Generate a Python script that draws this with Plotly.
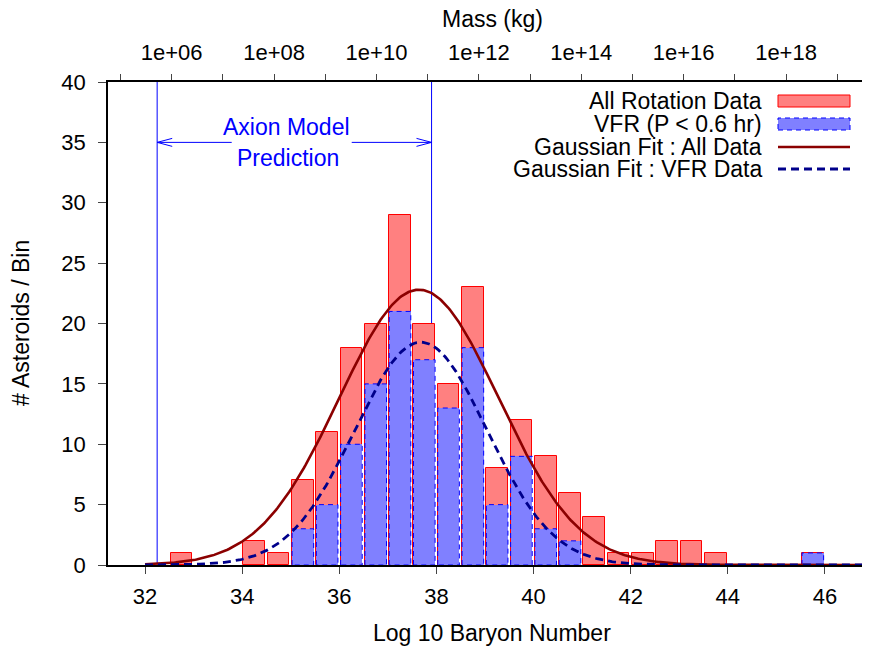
import numpy as np
import plotly.graph_objects as go

# ---------------- data ----------------
BIN_WIDTH = 0.5
BIN_CENTERS = [32.75, 34.25, 34.75, 35.25, 35.75, 36.25, 36.75, 37.25, 37.75, 38.25,
               38.75, 39.25, 39.75, 40.25, 40.75, 41.25, 41.75, 42.25, 42.75, 43.25,
               43.75, 45.75]
ALL_COUNTS = [1, 2, 1, 7, 11, 18, 20, 29, 20, 15, 23, 8, 12, 9, 6, 4, 1, 1, 2, 2, 1, 1]
VFR_COUNTS = [0, 0, 0, 3, 5, 10, 15, 21, 17, 13, 18, 5, 9, 3, 2, 0, 0, 0, 0, 0, 0, 1]

# Gaussian fit parameters (amplitude, mean, sigma)
ALL_FIT = [22.8, 37.64, 1.64]
VFR_FIT = [18.45, 37.68, 1.36]
FIT_START = 32.0

AXION_RANGE = [32.25, 37.90]

X_TICKS = [32, 34, 36, 38, 40, 42, 44, 46]
Y_TICKS = [0, 5, 10, 15, 20, 25, 30, 35, 40]
MASS_EXPONENTS = [5, 6, 7, 8, 9, 10, 11, 12, 13, 14, 15, 16, 17, 18, 19]
MASS_LABELS = ["", "1e+06", "", "1e+08", "", "1e+10", "", "1e+12", "", "1e+14",
               "", "1e+16", "", "1e+18", ""]

LEGEND_LABELS = ["All Rotation Data", "VFR (P &lt; 0.6 hr)",
                 "Gaussian Fit : All Data", "Gaussian Fit : VFR Data"]

# ---------------- styling ----------------
FONT = "Liberation Sans, Arial, sans-serif"
FS = 22      # tick labels
FS_T = 23    # titles, legend, annotations
RED_FILL, RED_LINE = "#ff8080", "#ff0000"
BLUE_FILL, BLUE_LINE = "#8080ff", "#0000ff"
DARK_RED, NAVY = "#8b0000", "#00008b"

OFF = 8  # page body margin
W, H = 870, 649
L, R, T, B = 100, 8, 74, 92
X_RANGE = [31.238, 46.927]
MASS_RANGE = [4.756, 19.64]
BAR_W = 0.445


def xp(px):
    """image pixel x -> paper"""
    return (px - OFF - L) / (W - L - R)


def yp(py):
    """image pixel y -> paper"""
    return (H - B - (py - OFF)) / (H - T - B)


fig = go.Figure()

fig.add_trace(go.Bar(x=BIN_CENTERS, y=ALL_COUNTS, width=BAR_W,
                     marker=dict(color=RED_FILL, line=dict(color=RED_LINE, width=1)),
                     showlegend=False, hoverinfo="skip"))
fig.add_trace(go.Bar(x=BIN_CENTERS, y=VFR_COUNTS, width=BAR_W,
                     marker=dict(color=BLUE_FILL, line=dict(width=0)),
                     showlegend=False, hoverinfo="skip"))

# dashed outlines of the VFR bars
ox, oy = [], []
for c, h in zip(BIN_CENTERS, VFR_COUNTS):
    if h <= 0:
        continue
    l, r = c - BAR_W / 2, c + BAR_W / 2
    ox += [l, l, r, r, l, None]
    oy += [0, h, h, 0, 0, None]
fig.add_trace(go.Scatter(x=ox, y=oy, mode="lines",
                         line=dict(color=BLUE_LINE, width=1, dash="5px,4px"),
                         showlegend=False, hoverinfo="skip"))

# gaussian fits
xf = np.linspace(FIT_START, X_RANGE[1] + 0.2, 500)


def gauss(x, p):
    a, m, s = p
    return a * np.exp(-((x - m) ** 2) / (2 * s * s))


fig.add_trace(go.Scatter(x=xf, y=gauss(xf, ALL_FIT), mode="lines",
                         line=dict(color=DARK_RED, width=2.6),
                         showlegend=False, hoverinfo="skip"))
fig.add_trace(go.Scatter(x=xf, y=gauss(xf, VFR_FIT), mode="lines",
                         line=dict(color=NAVY, width=2.8, dash="8px,5px"),
                         showlegend=False, hoverinfo="skip"))

# invisible trace to carry the top (mass) axis
fig.add_trace(go.Scatter(x=MASS_EXPONENTS, y=[None] * len(MASS_EXPONENTS),
                         xaxis="x2", mode="lines", showlegend=False, hoverinfo="skip"))

shapes = []
annotations = []

# axion model vertical lines
for xa in AXION_RANGE:
    shapes.append(dict(type="line", xref="x", yref="y", x0=xa, x1=xa, y0=0, y1=40,
                       line=dict(color=BLUE_LINE, width=1), layer="below"))

# arrow at y=35 with gap for text
ARROW_Y = 35
gap_l, gap_r = 33.785, 36.256
shapes.append(dict(type="line", xref="x", yref="y", x0=AXION_RANGE[0], x1=gap_l,
                   y0=ARROW_Y, y1=ARROW_Y, line=dict(color=BLUE_LINE, width=1)))
shapes.append(dict(type="line", xref="x", yref="y", x0=gap_r, x1=AXION_RANGE[1],
                   y0=ARROW_Y, y1=ARROW_Y, line=dict(color=BLUE_LINE, width=1)))
hx, hy = 0.31, 0.33
for tip, d in [(AXION_RANGE[0], 1), (AXION_RANGE[1], -1)]:
    for s in (1, -1):
        shapes.append(dict(type="line", xref="x", yref="y", x0=tip, x1=tip + d * hx,
                           y0=ARROW_Y, y1=ARROW_Y + s * hy,
                           line=dict(color=BLUE_LINE, width=1)))

annotations.append(dict(text="Axion Model", x=34.92, y=36.27, xref="x", yref="y",
                        showarrow=False, font=dict(color=BLUE_LINE, size=FS_T, family=FONT),
                        xanchor="center", yanchor="middle"))
annotations.append(dict(text="Prediction", x=34.94, y=33.71, xref="x", yref="y",
                        showarrow=False, font=dict(color=BLUE_LINE, size=FS_T, family=FONT),
                        xanchor="center", yanchor="middle"))

# custom legend (text left of sample)
leg_rows = [101, 124, 147, 169]
for lab, py in zip(LEGEND_LABELS, leg_rows):
    annotations.append(dict(text=lab, x=xp(764), y=yp(py), xref="paper", yref="paper",
                            showarrow=False, xanchor="right", yanchor="middle",
                            font=dict(size=FS_T, family=FONT, color="black")))
sx0, sx1 = xp(778), xp(850)
shapes.append(dict(type="rect", xref="paper", yref="paper", x0=sx0, x1=sx1,
                   y0=yp(leg_rows[0] + 6), y1=yp(leg_rows[0] - 6),
                   fillcolor=RED_FILL, line=dict(color=RED_LINE, width=1)))
shapes.append(dict(type="rect", xref="paper", yref="paper", x0=sx0, x1=sx1,
                   y0=yp(leg_rows[1] + 6), y1=yp(leg_rows[1] - 6),
                   fillcolor=BLUE_FILL, line=dict(color=BLUE_LINE, width=1, dash="5px,4px")))
shapes.append(dict(type="line", xref="paper", yref="paper", x0=sx0, x1=sx1,
                   y0=yp(leg_rows[2]), y1=yp(leg_rows[2]),
                   line=dict(color=DARK_RED, width=2.6)))
shapes.append(dict(type="line", xref="paper", yref="paper", x0=sx0, x1=sx1,
                   y0=yp(leg_rows[3]), y1=yp(leg_rows[3]),
                   line=dict(color=NAVY, width=2.8, dash="8px,5px")))

# axis titles
annotations.append(dict(text="Log 10 Baryon Number", x=xp(492), y=yp(633), xref="paper",
                        yref="paper", showarrow=False, xanchor="center", yanchor="middle",
                        font=dict(size=FS_T, family=FONT, color="black")))
annotations.append(dict(text="# Asteroids / Bin", x=xp(21), y=yp(323), xref="paper",
                        yref="paper", showarrow=False, xanchor="center", yanchor="middle",
                        textangle=-90, font=dict(size=FS_T, family=FONT, color="black")))
annotations.append(dict(text="Mass (kg)", x=xp(492), y=yp(19), xref="paper",
                        yref="paper", showarrow=False, xanchor="center", yanchor="middle",
                        font=dict(size=FS_T, family=FONT, color="black")))

axis_common = dict(showgrid=False, zeroline=False, ticks="outside", tickcolor="#444",
                   showline=True, linecolor="black", linewidth=1.5,
                   tickfont=dict(size=FS, family=FONT, color="black"))

fig.update_layout(
    width=W, height=H,
    margin=dict(l=L, r=R, t=T, b=B, pad=0),
    paper_bgcolor="white", plot_bgcolor="white",
    barmode="overlay", bargap=0,
    showlegend=False,
    font=dict(family=FONT, size=FS, color="black"),
    xaxis=dict(range=X_RANGE, tickvals=X_TICKS, ticklen=7, ticklabelstandoff=4,
               **axis_common),
    yaxis=dict(range=[0, 40], tickvals=Y_TICKS, ticklen=8, ticklabelstandoff=8,
               **axis_common),
    xaxis2=dict(range=MASS_RANGE, overlaying="x", side="top", tickvals=MASS_EXPONENTS,
                ticktext=MASS_LABELS, ticklen=6, ticklabelstandoff=5, **axis_common),
    shapes=shapes,
    annotations=annotations,
)

fig.write_html("out.html")
